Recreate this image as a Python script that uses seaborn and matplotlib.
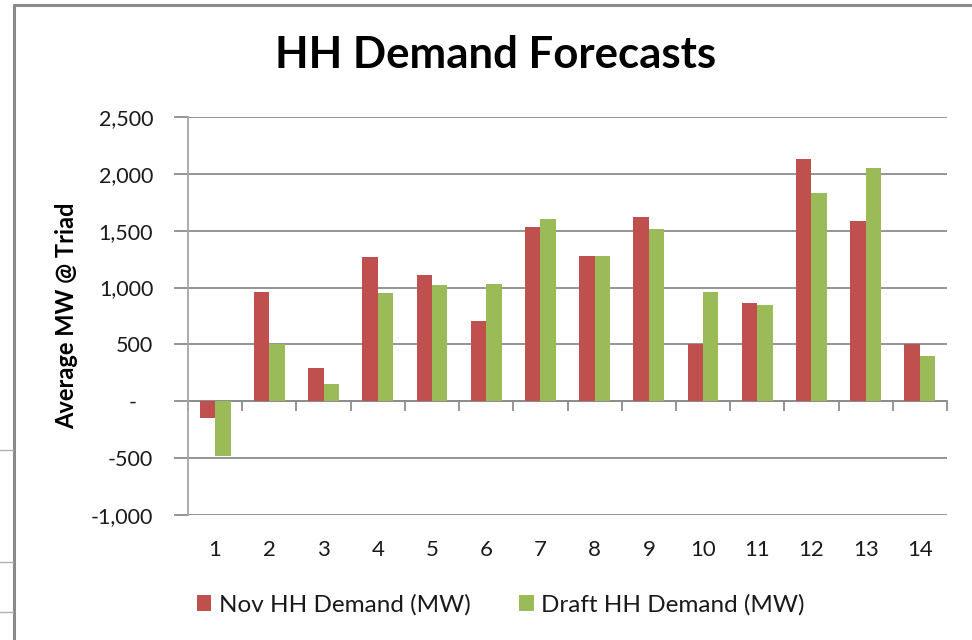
import numpy as np
import pandas as pd
import matplotlib
matplotlib.use("Agg")
import matplotlib.pyplot as plt
from matplotlib.lines import Line2D
from matplotlib.patches import Patch
from matplotlib.ticker import FuncFormatter
import seaborn as sns

periods = [str(i) for i in range(1, 15)]
nov_demand = [-150, 960, 295, 1265, 1110, 705, 1535, 1277, 1617, 503, 862, 2133, 1582, 507]
draft_demand = [-480, 502, 150, 952, 1019, 1030, 1605, 1277, 1514, 960, 849, 1828, 2054, 398]
series_names = ["Nov HH Demand (MW)", "Draft HH Demand (MW)"]
colors = ["#C0504D", "#9BBB59"]

df = pd.DataFrame({
    "period": periods * 2,
    "value": nov_demand + draft_demand,
    "series": [series_names[0]] * len(periods) + [series_names[1]] * len(periods),
})

sns.set_theme(style="white")
plt.rcParams["font.family"] = ["Lato", "DejaVu Sans"]
grey = "#8c8c8c"
text_col = "#1a1a1a"

fig = plt.figure(figsize=(9.72, 6.4), dpi=100)
ax = fig.add_axes([0.1934, 0.1953, 0.7809, 0.6219])

sns.barplot(data=df, x="period", y="value", hue="series", palette=colors,
            width=0.57, linewidth=0, saturation=1, ax=ax, legend=False)

ax.set_xlim(-0.5, 13.5)
ax.set_ylim(-1000, 2500)
ax.set_yticks(np.arange(-1000, 2501, 500))
ax.yaxis.set_major_formatter(FuncFormatter(lambda v, p: "-   " if v == 0 else f"{v:,.0f}"))
ax.set_axisbelow(True)
ax.yaxis.grid(True, color=grey, lw=1.3)
ax.xaxis.grid(False)

for s in ["top", "right", "bottom"]:
    ax.spines[s].set_visible(False)
ax.spines["left"].set_color("#a6a6a6")
ax.spines["left"].set_linewidth(1.3)

ax.tick_params(axis="y", length=10, width=1.3, color=grey, direction="out",
               pad=15, labelsize=15.5, labelcolor=text_col, left=True)
ax.tick_params(axis="x", length=0, pad=18, labelsize=16, labelcolor=text_col)
ax.set_xlabel("")
ax.set_ylabel("Average MW @ Triad", fontsize=17, fontweight="bold", color="black")
ax.yaxis.set_label_coords(-0.145, 0.5)

# zero line with category boundary ticks
sec = ax.secondary_xaxis(0, transform=ax.transData)
sec.set_xticks(np.arange(-0.5, 14, 1))
sec.tick_params(length=7, width=1.3, color=grey, direction="out", labelbottom=False)
sec.spines["bottom"].set_color(grey)
sec.spines["bottom"].set_linewidth(1.3)

fig.text(0.51, 0.914, "HH Demand Forecasts", ha="center", va="center",
         fontsize=31.5, fontweight="bold", color="black")

handles = [Patch(facecolor=c, edgecolor="none") for c in colors]
fig.legend(handles, series_names, loc="center", bbox_to_anchor=(0.515, 0.055), ncol=2,
           frameon=False, fontsize=17.5, handlelength=0.6, handleheight=0.6,
           handletextpad=0.3, columnspacing=2.0, labelcolor=text_col)

# chart border and spreadsheet cell lines
fig.add_artist(Line2D([14 / 972, 1], [1 - 5 / 640, 1 - 5 / 640], color="#8a8a8a", lw=2.2))
fig.add_artist(Line2D([14 / 972, 14 / 972], [0, 1 - 5 / 640], color="#8a8a8a", lw=2.2))
for yy in [450, 562, 612]:
    fig.add_artist(Line2D([0, 13 / 972], [1 - yy / 640, 1 - yy / 640], color="#b0b0b0", lw=1))

fig.savefig("out.png", dpi=100)
